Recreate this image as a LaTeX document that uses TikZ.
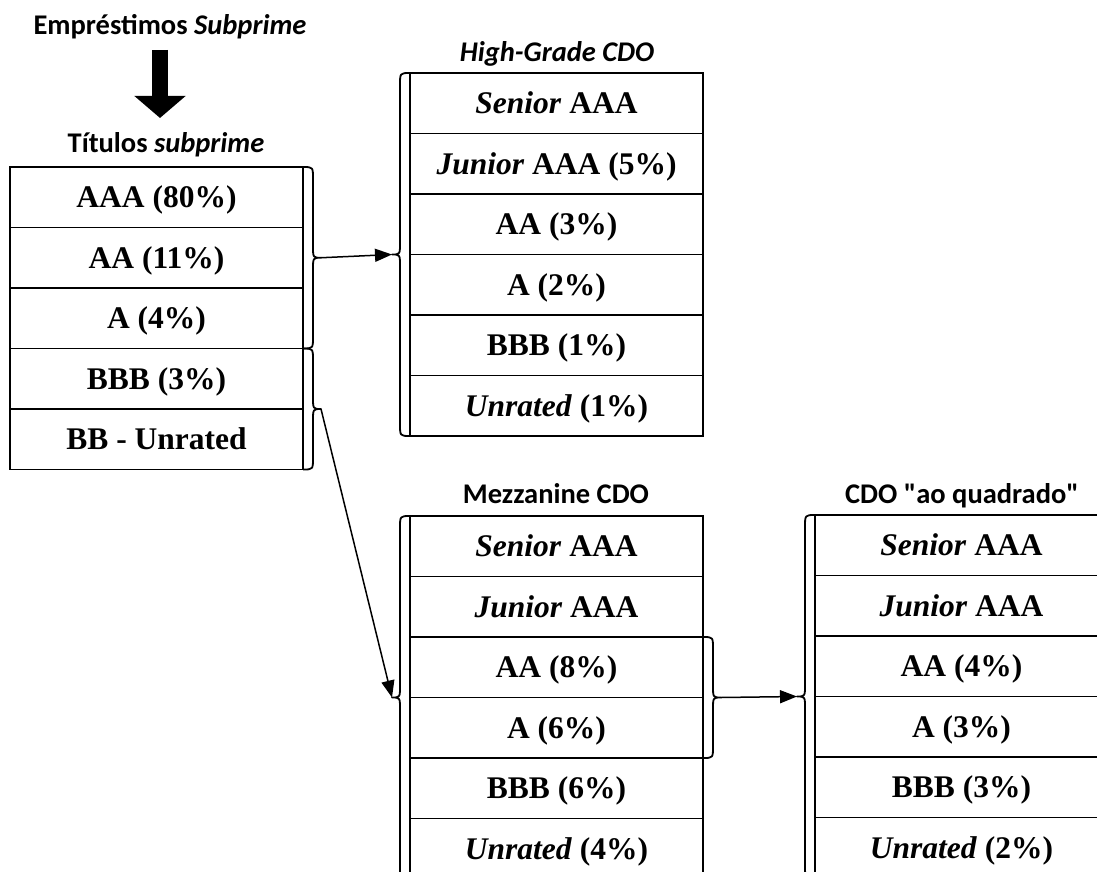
\documentclass[tikz,border=0pt]{standalone}
\usepackage{fontspec}
\setmainfont{Liberation Serif}
\newfontfamily\titlefont{Carlito}
\usetikzlibrary{arrows.meta,calc}

\tikzset{
  tranche/.style={draw, line width=1.8pt, minimum width=293pt, minimum height=60.5pt,
    inner sep=0pt, outer sep=0pt, anchor=north west,
    font=\fontsize{31.5}{31.5}\selectfont\bfseries, text height=21pt, text depth=0pt},
  heading/.style={anchor=base, inner sep=0pt, font=\titlefont\fontsize{28.5}{28.5}\selectfont\bfseries},
  bracestyle/.style={draw, line width=1.8pt, line join=round},
  flow/.style={line width=1.5pt, -{Triangle[length=17pt,width=13pt]}},
  bigflow/.style={line width=16pt, -{Triangle[length=22pt,width=50pt]}}
}

% Curly brace along a table side: #1 top point, #2 bottom point,
% #3 = 1 opens to the right, -1 to the left, #4 names the tip
\newcommand\sidebrace[4]{%
  \path[bracestyle] let \p1=(#1), \p2=(#2), \n1={#3*10pt}, \n2={#3*18pt},
      \n3={0.5*(\y1+\y2)} in
    (\x1,\y1) .. controls (\x1+\n1,\y1) and (\x1+\n1,\y1) .. (\x1+\n1,\y1-12pt)
    -- (\x1+\n1,\n3+12pt) .. controls (\x1+\n1,\n3) and (\x1+\n1,\n3) .. (\x1+\n2,\n3)
    coordinate (#4)
    .. controls (\x1+\n1,\n3) and (\x1+\n1,\n3) .. (\x1+\n1,\n3-12pt)
    -- (\x1+\n1,\y2+12pt) .. controls (\x1+\n1,\y2) and (\x1+\n1,\y2) .. (\x1,\y2);
}

\begin{document}
\begin{tikzpicture}[x=1pt,y=-1pt]
\useasboundingbox (0,0) rectangle (1097,872);
\clip (0,0) rectangle (1097,872);

% headings
\node[heading] (emp) at (170,35) {Empréstimos \textit{Subprime}};
\node[heading] (tit) at (166,153) {Títulos \textit{subprime}};
\node[heading] (hgt) at (557,62) {\textit{High-Grade CDO}};
\node[heading] (mzt) at (556,503) {Mezzanine CDO};
\node[heading] (sqt) at (962,503) {CDO "ao quadrado"};

% securitisation arrow
\coordinate (ba) at (160,50);
\coordinate (bb) at (160,118);
\draw[bigflow] (ba) -- (bb);

% subprime securities
\foreach \t [count=\i] in {AAA (80\%), AA (11\%), A (4\%), BBB (3\%), BB - Unrated}
  \node[tranche] (L\i) at (10,{167+60.5*(\i-1)}) {\t};

% high-grade CDO
\foreach \t [count=\i] in {{\textit{Senior} AAA}, {\textit{Junior} AAA (5\%)}, AA (3\%),
    A (2\%), BBB (1\%), {\textit{Unrated} (1\%)}}
  \node[tranche] (H\i) at (410,{73+60.5*(\i-1)}) {\t};

% mezzanine CDO
\foreach \t [count=\i] in {{\textit{Senior} AAA}, {\textit{Junior} AAA}, AA (8\%),
    A (6\%), BBB (6\%), {\textit{Unrated} (4\%)}}
  \node[tranche] (M\i) at (410,{516+60.5*(\i-1)}) {\t};

% CDO squared
\foreach \t [count=\i] in {{\textit{Senior} AAA}, {\textit{Junior} AAA}, AA (4\%),
    A (3\%), BBB (3\%), {\textit{Unrated} (2\%)}}
  \node[tranche] (C\i) at (815,{515+60.5*(\i-1)}) {\t};

% braces grouping tranches
\sidebrace{L1.north east}{L3.south east}{1}{b1}
\sidebrace{L4.north east}{L5.south east}{1}{b2}
\sidebrace{H1.north west}{H6.south west}{-1}{b3}
\sidebrace{M1.north west}{M6.south west}{-1}{b4}
\sidebrace{M3.north east}{M4.south east}{1}{b5}
\sidebrace{C1.north west}{C6.south west}{-1}{b6}

% flows between tranches
\draw[flow] (b1) -- (b3);
\draw[flow] (b2) -- (b4);
\draw[flow] (b5) -- (b6);
\end{tikzpicture}
\end{document}
